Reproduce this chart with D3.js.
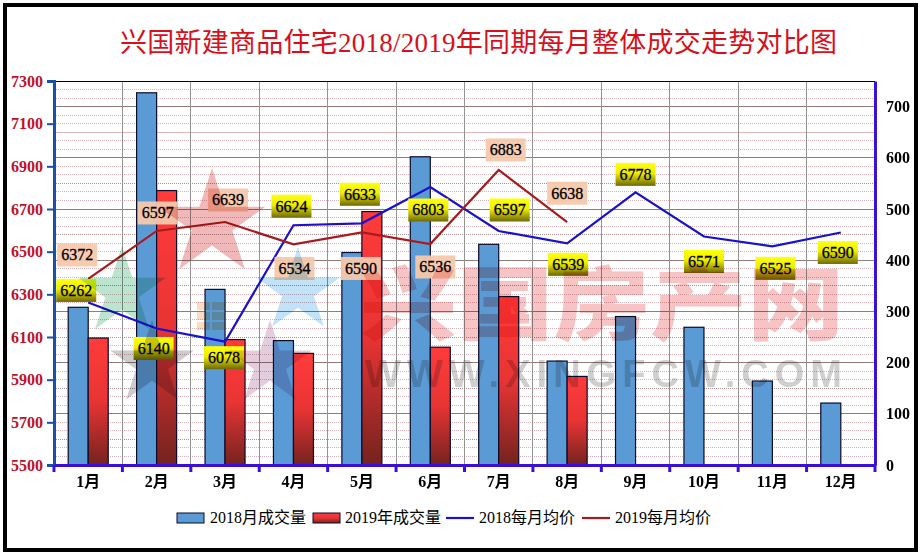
<!DOCTYPE html>
<html>
<head>
<meta charset="utf-8">
<script src="https://cdn.jsdelivr.net/npm/d3@7"></script>
<style>
    html, body { margin: 0; background: #fff; }
    svg { display: block; }
    text { font-family: "Liberation Serif", "Noto Sans CJK SC", serif; }
</style>
</head>
<body>
<div id="figure"></div>
<script>
var months = ["1月", "2月", "3月", "4月", "5月", "6月", "7月", "8月", "9月", "10月", "11月", "12月"];
var volume2018 = [308, 727, 343, 243, 415, 602, 431, 203, 290, 269, 164, 121];
var volume2019 = [248, 536, 245, 218, 495, 230, 329, 173];
var price2018 = [6262, 6140, 6078, 6624, 6633, 6803, 6597, 6539, 6778, 6571, 6525, 6590];
var price2019 = [6372, 6597, 6639, 6534, 6590, 6536, 6883, 6638];
var priceTicks = [5500, 5700, 5900, 6100, 6300, 6500, 6700, 6900, 7100, 7300];
var volumeTicks = [0, 100, 200, 300, 400, 500, 600, 700];
var titleText = "兴国新建商品住宅2018/2019年同期每月整体成交走势对比图";

// where each value box sits relative to its point, picked by hand like the original
var labelOffset2018 = [[-12, -12], [-3, 20], [-1, 16], [-2, -19], [-2, -29], [-2, 23], [11, -21], [1, 21], [0, -18], [0, 25], [3, 22], [-3, 20]];
var labelOffset2019 = [[-11, -24], [1, -18], [3, -22], [1, 24], [-1, 36], [5, 23], [7, -20], [0, -29]];

var left = 54, right = 875, top_ = 81, bottom = 465;

var svg = d3.select("#figure")
    .append("svg")
    .attr("width", 921)
    .attr("height", 557);

var defs = svg.append("defs");

function addGradient(id, stops) {
    var g = defs.append("linearGradient")
        .attr("id", id)
        .attr("x1", 0).attr("y1", 0).attr("x2", 0).attr("y2", 1);
    stops.forEach(s => {
        g.append("stop").attr("offset", s[0]).attr("stop-color", s[1]);
    });
}
addGradient("redBar", [[0, "#ff3b3b"], [0.5, "#e83434"], [1, "#74231f"]]);
addGradient("yellowBox", [[0, "#ffff10"], [0.45, "#eeee00"], [1, "#6e680a"]]);

var x = d3.scaleBand()
    .domain(months)
    .range([left, right]);
var xYear = d3.scaleBand()
    .domain(["2018", "2019"])
    .range([0, x.bandwidth()])
    .paddingOuter(0.71);
var yPrice = d3.scaleLinear()
    .domain([5500, 7300])
    .range([bottom, top_]);
var yVolume = d3.scaleLinear()
    .domain([0, 750])
    .range([bottom, top_]);

// frame
svg.append("rect")
    .attr("x", 5).attr("y", 5)
    .attr("width", 911).attr("height", 545)
    .attr("fill", "#fff")
    .attr("stroke", "#000")
    .attr("stroke-width", 4);

// title
svg.append("text")
    .attr("x", 120)
    .attr("y", 52)
    .attr("textLength", 717)
    .attr("font-size", 27)
    .attr("fill", "#d8101c")
    .text(titleText);

// grid
var grid = svg.append("g").attr("shape-rendering", "crispEdges");
grid.selectAll(".minor")
    .data(d3.range(0, 750, 100 / 6))
    .join("line")
    .attr("x1", left).attr("x2", right)
    .attr("y1", d => yVolume(d)).attr("y2", d => yVolume(d))
    .attr("stroke", "#d8b4ba")
    .attr("stroke-dasharray", "1,1");
grid.selectAll(".half")
    .data([550, 450, 350, 250, 150, 50])
    .join("line")
    .attr("x1", left).attr("x2", right)
    .attr("y1", d => yVolume(d)).attr("y2", d => yVolume(d))
    .attr("stroke", "#a89094")
    .attr("stroke-dasharray", "1,1");
grid.append("line")
    .attr("x1", left).attr("x2", right)
    .attr("y1", yVolume(650)).attr("y2", yVolume(650))
    .attr("stroke", "#e0b4c0");
grid.selectAll(".major")
    .data(volumeTicks.slice(1))
    .join("line")
    .attr("x1", left).attr("x2", right)
    .attr("y1", d => yVolume(d)).attr("y2", d => yVolume(d))
    .attr("stroke", "#927c7c");
var boundaries = months.map(m => x(m)).concat([right]);
grid.selectAll(".vertical")
    .data(boundaries.slice(1, -1))
    .join("line")
    .attr("x1", d => d).attr("x2", d => d)
    .attr("y1", top_).attr("y2", bottom)
    .attr("stroke", "#949494");
grid.append("line")
    .attr("x1", left).attr("x2", right)
    .attr("y1", top_).attr("y2", top_)
    .attr("stroke", "#000");

// bars
function drawBars(values, year, fill) {
    svg.append("g")
        .selectAll("rect")
        .data(values)
        .join("rect")
        .attr("x", (d, i) => x(months[i]) + xYear(year))
        .attr("y", d => yVolume(d))
        .attr("width", xYear.bandwidth())
        .attr("height", d => bottom - yVolume(d))
        .attr("fill", fill)
        .attr("stroke", "#0a0a2a")
        .attr("stroke-width", 1.2);
}
drawBars(volume2018, "2018", "#5b9bd5");
drawBars(volume2019, "2019", "url(#redBar)");

// lines
var center = i => x(months[i]) + x.bandwidth() / 2;
var priceLine = d3.line()
    .x((d, i) => center(i))
    .y(d => yPrice(d));
svg.append("path")
    .attr("d", priceLine(price2018))
    .attr("fill", "none")
    .attr("stroke", "#1a10d0")
    .attr("stroke-width", 2.2);
svg.append("path")
    .attr("d", priceLine(price2019))
    .attr("fill", "none")
    .attr("stroke", "#a81a1e")
    .attr("stroke-width", 2.2);

// value boxes
function drawLabels(values, offsets, fill, opacity) {
    var g = svg.append("g")
        .selectAll("g")
        .data(values)
        .join("g")
        .attr("transform", (d, i) => `translate(${center(i) + offsets[i][0]},${yPrice(d) + offsets[i][1]})`);
    g.append("rect")
        .attr("x", -20).attr("y", -11.5)
        .attr("width", 40).attr("height", 23)
        .attr("fill", fill)
        .attr("opacity", opacity);
    g.append("text")
        .attr("text-anchor", "middle")
        .attr("dy", "0.34em")
        .attr("font-size", 16)
        .attr("fill", "#000")
        .attr("stroke", "#000")
        .attr("stroke-width", 0.3)
        .text(d => d);
}
drawLabels(price2019, labelOffset2019, "#f5c8ac", 0.95);
drawLabels(price2018, labelOffset2018, "url(#yellowBox)", 1);

// watermark
var watermark = svg.append("g")
    .style("mix-blend-mode", "multiply")
    .style("pointer-events", "none");
var stars = [
    { cx: 212, cy: 224, r: 56, color: "#f0b8b8" },
    { cx: 122, cy: 292, r: 46, color: "#bce4cf" },
    { cx: 298, cy: 291, r: 44, color: "#c2e3f7" },
    { cx: 152, cy: 364, r: 44, color: "#cccccc" },
    { cx: 270, cy: 364, r: 44, color: "#e2cddc" }
];
watermark.selectAll("path")
    .data(stars)
    .join("path")
    .attr("transform", d => `translate(${d.cx},${d.cy})`)
    .attr("d", d => d3.symbol(d3.symbolStar, d.r * d.r / 0.89081)())
    .attr("fill", d => d.color);
watermark.selectAll("rect")
    .data(d3.range(6))
    .join("rect")
    .attr("x", d => 197 + (d % 2) * 15)
    .attr("y", d => 302 + Math.floor(d / 2) * 10)
    .attr("width", 13)
    .attr("height", 8)
    .attr("fill", "#fbdcc0");
watermark.append("text")
    .attr("transform", "translate(360,333) scale(1.21,1)")
    .attr("font-size", 80)
    .attr("font-weight", 900)
    .attr("fill", "#f6c4c4")
    .style("font-family", '"Noto Sans CJK SC"')
    .text("兴国房产网");
watermark.append("text")
    .attr("x", 365)
    .attr("y", 387)
    .attr("textLength", 477)
    .attr("font-size", 38)
    .attr("font-weight", "bold")
    .attr("fill", "#cfcfcf")
    .style("font-family", '"Liberation Sans"')
    .text("WWW.XINGFCW.COM");

// axes
var axisLeft = svg.append("g")
    .attr("transform", `translate(${left},0)`)
    .call(d3.axisLeft(yPrice).tickValues(priceTicks).tickSize(7).tickPadding(4).tickFormat(d3.format("d")));
axisLeft.select(".domain").attr("stroke", "#1a50a8").attr("stroke-width", 3);
axisLeft.selectAll("line").attr("stroke", "#1a50a8").attr("stroke-width", 2);
axisLeft.selectAll("text")
    .attr("font-size", 16)
    .attr("font-weight", "bold")
    .attr("fill", "#c01226");

var axisRight = svg.append("g")
    .attr("transform", `translate(${right},0)`)
    .call(d3.axisRight(yVolume).tickValues(volumeTicks).tickSize(0).tickPadding(11).tickFormat(d3.format("d")));
axisRight.select(".domain").attr("stroke", "#3a10d8").attr("stroke-width", 3);
axisRight.selectAll("text")
    .attr("font-size", 16)
    .attr("font-weight", "bold")
    .attr("fill", "#000");

var axisBottom = svg.append("g")
    .attr("transform", `translate(0,${bottom})`)
    .call(d3.axisBottom(x).tickSize(0).tickPadding(11));
axisBottom.select(".domain").attr("stroke", "#3a10d8").attr("stroke-width", 3);
axisBottom.selectAll("text")
    .attr("font-size", 16)
    .attr("font-weight", "bold")
    .attr("fill", "#000");
axisBottom.selectAll(".boundary")
    .data(boundaries)
    .join("line")
    .attr("x1", d => d).attr("x2", d => d)
    .attr("y1", 0).attr("y2", 7)
    .attr("stroke", "#3a10d8")
    .attr("stroke-width", 3);

// legend
var legend = svg.append("g").attr("font-size", 16);
function legendText(xPos, label) {
    legend.append("text")
        .attr("x", xPos)
        .attr("y", 523)
        .attr("fill", "#000")
        .text(label);
}
legend.append("rect")
    .attr("x", 177).attr("y", 513)
    .attr("width", 27).attr("height", 10)
    .attr("fill", "#5b9bd5")
    .attr("stroke", "#0a0a2a");
legendText(210, "2018月成交量");
legend.append("rect")
    .attr("x", 313).attr("y", 513)
    .attr("width", 27).attr("height", 10)
    .attr("fill", "url(#redBar)")
    .attr("stroke", "#0a0a2a");
legendText(345, "2019年成交量");
legend.append("line")
    .attr("x1", 446).attr("x2", 474)
    .attr("y1", 518).attr("y2", 518)
    .attr("stroke", "#1a10d0")
    .attr("stroke-width", 2.2);
legendText(479, "2018每月均价");
legend.append("line")
    .attr("x1", 582).attr("x2", 610)
    .attr("y1", 518).attr("y2", 518)
    .attr("stroke", "#a81a1e")
    .attr("stroke-width", 2.2);
legendText(615, "2019每月均价");
</script>
</body>
</html>
